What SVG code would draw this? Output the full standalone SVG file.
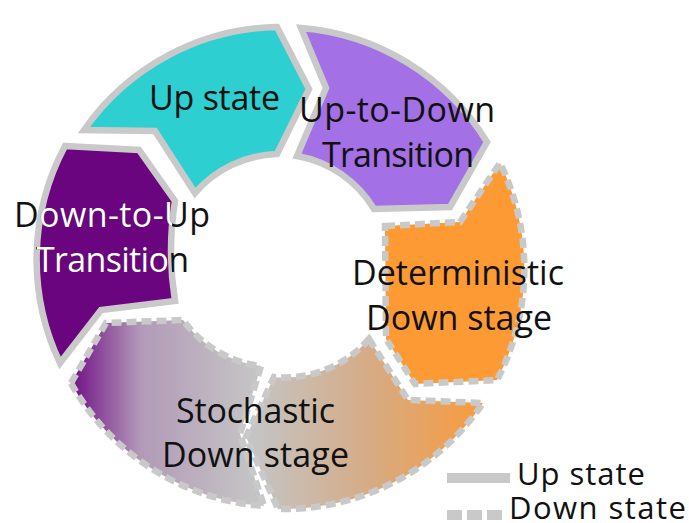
<svg xmlns="http://www.w3.org/2000/svg" width="689" height="523" viewBox="0 0 689 523">
<style>
.up{stroke:#c9c9c9;stroke-width:6.5;stroke-linejoin:miter;stroke-miterlimit:6}
.down{stroke:#c9c9c9;stroke-width:6.5;stroke-dasharray:10 5;stroke-linejoin:miter;stroke-miterlimit:6}
text{font-family:"Open Sans","Noto Sans","DejaVu Sans",sans-serif;font-size:34px;fill:#111}
.leg{font-size:31px}
</style>
<defs>
<linearGradient id="gP" gradientUnits="userSpaceOnUse" x1="68" y1="0" x2="250" y2="0">
<stop offset="0" stop-color="#6e0a84"/>
<stop offset="0.4" stop-color="#b29ab8"/>
<stop offset="1" stop-color="#c4c3c4"/>
</linearGradient>
<linearGradient id="gO" gradientUnits="userSpaceOnUse" x1="255" y1="0" x2="488" y2="0">
<stop offset="0" stop-color="#c4c4c4"/>
<stop offset="0.5" stop-color="#d6ab84"/>
<stop offset="1" stop-color="#fb9a37"/>
</linearGradient>
<path id="pDU" d="M65,146 L139,150 L175,201 Q167,251 175,301 L101,310 L60,363 A241,241 0 0,1 65,146 Z"/>
<clipPath id="cDU"><use href="#pDU"/></clipPath>
</defs>
<g id="connectors"></g>
<g id="up-state">
<path class="up" fill="#2dcfd0" d="M84,130 A241,241 0 0,1 277,27 L309,89 L277,154 A113,113 0 0,0 195,193 L155,131 Z"/>
<text x="149" y="110" textLength="131">Up state</text>
</g>
<g id="up-to-down">
<path class="up" fill="#a370e6" d="M301,28 A241,241 0 0,1 487,142 L450,207 L374,209 A112,112 0 0,0 297,156 L326,88 Z"/>
<text x="299" y="122" textLength="196">Up-to-Down</text>
<text x="322" y="167" textLength="152">Transition</text>
</g>
<g id="deterministic">
<path class="down" fill="#fd9a33" d="M385,226 L460,222 L500,163 A241,241 0 0,1 497,380 L415,384 L386,339 Z"/>
<text x="352" y="285" textLength="212">Deterministic</text>
<text x="366" y="330" textLength="186">Down stage</text>
</g>
<g id="stochastic-right">
<path class="down" fill="url(#gO)" d="M369,339 L408,400 L483,403 A241,241 0 0,1 278,509 L246,437 L274,377 A112,112 0 0,0 369,339 Z"/>
</g>
<g id="stochastic">
<path class="down" fill="url(#gP)" d="M71,383 L106,323 L183,320 A112,112 0 0,0 261,366 L240,434 L264,506 A241,241 0 0,1 71,383 Z"/>
<text x="176" y="423" textLength="159">Stochastic</text>
<text x="162" y="467" textLength="187">Down stage</text>
</g>
<g id="down-to-up">
<use href="#pDU" class="up" fill="#6b047f"/>
<text x="14" y="227" textLength="196">Down-to-Up</text>
<text x="36" y="272" textLength="153">Transition</text>
<g clip-path="url(#cDU)">
<text x="14" y="227" textLength="196" style="fill:#fff">Down-to-Up</text>
<text x="36" y="272" textLength="153" style="fill:#fff">Transition</text>
</g>
</g>
<g id="legend">
<line x1="447" y1="478" x2="510" y2="478" stroke="#c9c9c9" stroke-width="10"/>
<text class="leg" x="517" y="485" textLength="128">Up state</text>
<line x1="447" y1="515" x2="502" y2="515" stroke="#c9c9c9" stroke-width="10" stroke-dasharray="15 5"/>
<text class="leg" x="509" y="519" textLength="177">Down state</text>
</g>
</svg>
